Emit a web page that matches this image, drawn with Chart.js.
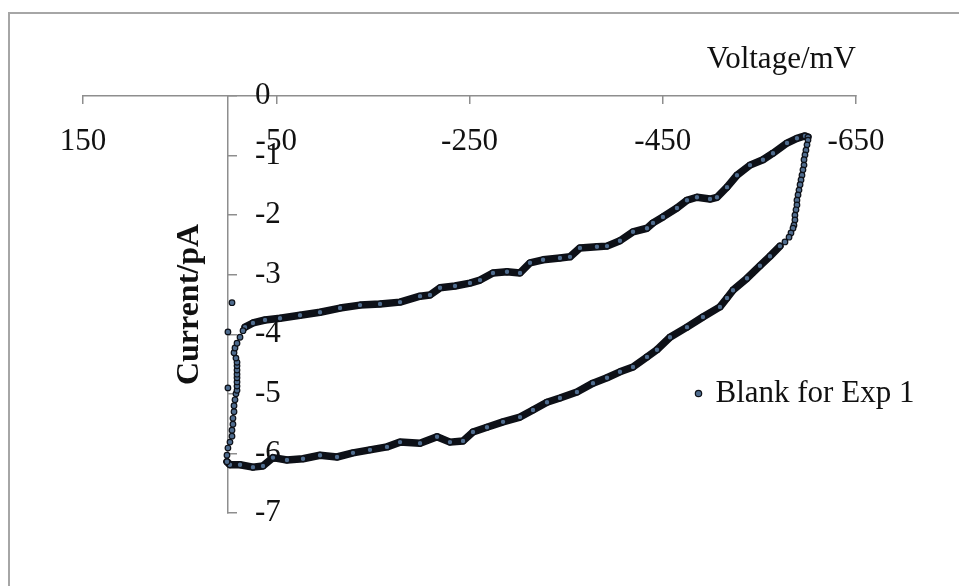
<!DOCTYPE html>
<html><head><meta charset="utf-8">
<script src="https://cdn.jsdelivr.net/npm/chart.js@4.4.1/dist/chart.umd.min.js"></script>
<style>
html,body{margin:0;padding:0;background:#fff;overflow:hidden;}
#wrap{position:relative;width:959px;height:586px;overflow:hidden;}
#frame{position:absolute;left:8px;top:12px;width:2000px;height:2000px;border:2px solid #a6a6a6;box-sizing:border-box;pointer-events:none;}
canvas{position:absolute;left:0;top:0;}
</style></head><body>
<div id="wrap"><div id="frame"></div><canvas id="c" width="959" height="586"></canvas></div>
<script>
// ---- data (Voltage in mV, Current in pA) ----
const xTickValues = [150, -50, -250, -450, -650];
const yTickValues = [0, -1, -2, -3, -4, -5, -6, -7];

const outlierV = [-4.2, 0.0, 0.0];
const outlierI = [-3.47, -3.96, -4.90];

const upperV = [-17.7, -25.9, -38.4, -53.9, -74.6, -95.3, -116.0, -136.7, -157.4, -178.1, -198.8, -209.1, -219.5, -235.0, -250.5, -260.9, -274.3, -288.8, -302.3, -312.6, -326.1, -343.6, -354.0, -364.3, -381.9, -392.3, -405.7, -419.2, -433.7, -439.9, -450.2, -464.7, -475.1, -485.4, -498.9, -506.1, -516.5, -526.8, -540.3, -553.7, -564.1, -578.6, -588.9, -597.2, -600.3];
const upperI = [-3.88, -3.81, -3.76, -3.73, -3.68, -3.63, -3.56, -3.51, -3.49, -3.46, -3.36, -3.34, -3.22, -3.19, -3.14, -3.09, -2.97, -2.95, -2.97, -2.80, -2.75, -2.72, -2.70, -2.55, -2.53, -2.52, -2.43, -2.28, -2.22, -2.13, -2.03, -1.88, -1.75, -1.70, -1.73, -1.70, -1.53, -1.33, -1.16, -1.07, -0.96, -0.79, -0.71, -0.67, -0.69];

const rightV = [-600.3, -599.3, -598.2, -597.2, -596.2, -596.2, -595.1, -594.1, -593.1, -592.1, -591.0, -590.0, -588.9, -588.9, -587.9, -586.8, -586.8, -585.8, -584.8, -582.7, -580.7, -576.5];
const rightI = [-0.74, -0.82, -0.91, -0.99, -1.07, -1.16, -1.24, -1.33, -1.41, -1.49, -1.58, -1.66, -1.75, -1.83, -1.91, -2.00, -2.08, -2.17, -2.22, -2.30, -2.37, -2.45];

const lowerV = [-571.3, -561.0, -550.6, -537.2, -522.7, -516.5, -509.2, -491.6, -475.1, -457.5, -444.0, -433.7, -419.2, -405.7, -392.3, -377.8, -361.2, -343.6, -330.2, -315.7, -302.3, -284.7, -268.1, -253.6, -243.3, -229.8, -216.4, -198.8, -178.1, -164.6, -147.0, -129.4, -112.9, -95.3, -77.7, -61.1, -46.6, -36.3, -25.9, -12.5, -2.1, 1.0];
const lowerI = [-2.52, -2.69, -2.85, -3.06, -3.26, -3.39, -3.54, -3.71, -3.88, -4.05, -4.26, -4.38, -4.55, -4.63, -4.73, -4.82, -4.97, -5.07, -5.14, -5.27, -5.39, -5.47, -5.56, -5.64, -5.79, -5.81, -5.72, -5.83, -5.81, -5.89, -5.94, -5.99, -6.06, -6.03, -6.09, -6.11, -6.07, -6.21, -6.23, -6.19, -6.19, -6.14];

const leftV = [1.0, 0.0, -2.1, -4.2, -4.2, -5.2, -5.2, -6.3, -6.3, -7.3, -8.3, -9.4, -9.4, -9.4, -9.4, -9.4, -9.4, -9.4, -9.4, -8.3, -6.3, -7.3, -9.4, -12.5, -15.6];
const leftI = [-6.03, -5.91, -5.81, -5.71, -5.61, -5.51, -5.41, -5.30, -5.20, -5.10, -5.00, -4.94, -4.87, -4.80, -4.73, -4.67, -4.60, -4.53, -4.47, -4.40, -4.31, -4.23, -4.15, -4.05, -3.94];

// ---- build ----
const zip = (vs, is) => vs.map((v, k) => ({x: v, y: is[k]}));
const allPoints = [].concat(zip(outlierV, outlierI), zip(upperV, upperI), zip(rightV, rightI), zip(lowerV, lowerI), zip(leftV, leftI));
const leftBar = zip(leftV.slice(11, 19), leftI.slice(11, 19));

const FAM = '"Liberation Serif", "Times New Roman", serif';
const AXIS = '#8e8e8e';
const INK = '#0d1017';
const DOT = '#4f6c8e';
const TXT = '#111111';

const legendPlacer = {
  id: 'legendPlacer',
  afterLayout(chart) {
    const lg = chart.legend;
    if (!lg) return;
    const w = lg.width, h = lg.height;
    lg.left = 687; lg.top = 368; lg.right = lg.left + w; lg.bottom = lg.top + h;
  }
};

const band = (data, w) => ({ label: 'band', data, showLine: true, borderColor: INK, borderWidth: w,
  pointRadius: 0, borderJoinStyle: 'round', borderCapStyle: 'round', order: 1, xAxisID: 'x', yAxisID: 'y' });

new Chart(document.getElementById('c'), {
  type: 'scatter',
  data: {
    datasets: [
      { label: 'Blank for Exp 1', data: allPoints, showLine: false, xAxisID: 'x', yAxisID: 'y',
        pointRadius: 2.8, pointBackgroundColor: DOT, pointBorderColor: INK, pointBorderWidth: 1.2,
        backgroundColor: DOT, borderColor: INK, order: 0 },
      band(zip(upperV, upperI), 7.5),
      band(zip(lowerV, lowerI), 7.5),
      band(leftBar, 5)
    ]
  },
  options: {
    responsive: false, animation: false, devicePixelRatio: 1,
    layout: { padding: { left: 83, right: 103, top: 0, bottom: 73 } },
    plugins: {
      tooltip: { enabled: false },
      legend: {
        position: 'chartArea', align: 'start',
        labels: {
          filter: item => item.datasetIndex === 0,
          usePointStyle: true, pointStyle: 'circle', boxWidth: 3, boxHeight: 4.5, padding: 10,
          font: { family: FAM, size: 31 }, color: TXT
        }
      }
    },
    scales: {
      x: {
        type: 'linear', position: 'top', reverse: true, min: -650, max: 150,
        afterBuildTicks: s => { s.ticks = xTickValues.map(v => ({value: v})); },
        afterFit: s => { s.height = 96; },
        ticks: { mirror: true, padding: 27, font: { family: FAM, size: 31 }, color: TXT, maxRotation: 0, autoSkip: false },
        grid: { drawOnChartArea: false, drawTicks: true, tickLength: -8, color: AXIS, lineWidth: 1.5 },
        border: { display: true, color: AXIS, width: 1.5 }
      },
      xTitle: {
        type: 'linear', axis: 'x', position: 'top', weight: 5, min: -650, max: 150,
        afterFit: s => { s.height = 0; },
        ticks: { display: false },
        grid: { display: false, drawTicks: false },
        border: { display: false },
        title: { display: true, text: 'Voltage/mV', align: 'end', color: TXT,
                 font: { family: FAM, size: 31 }, padding: { top: 41, bottom: 0 } }
      },
      y: {
        type: 'linear', position: { x: 0 }, min: -7, max: 0,
        afterBuildTicks: s => { s.ticks = yTickValues.map(v => ({value: v})); },
        ticks: { display: false },
        grid: { drawOnChartArea: false, drawTicks: true, tickLength: -10, color: AXIS, lineWidth: 1.5 },
        border: { display: true, color: AXIS, width: 1.5 }
      },
      yLabels: {
        type: 'linear', axis: 'y', position: 'left', min: -7, max: 0,
        afterBuildTicks: s => { s.ticks = yTickValues.map(v => ({value: v})); },
        afterFit: s => { s.width = 0; s.paddingTop = 0; s.paddingBottom = 0; },
        ticks: { mirror: true, padding: 172, font: { family: FAM, size: 31 }, color: TXT },
        grid: { display: false, drawTicks: false },
        border: { display: false },
        title: { display: true, text: 'Current/pA', color: TXT,
                 font: { family: FAM, size: 32, weight: 'bold' }, padding: { top: 88, bottom: 0 } }
      }
    }
  },
  plugins: [legendPlacer]
});
</script>
</body></html>
